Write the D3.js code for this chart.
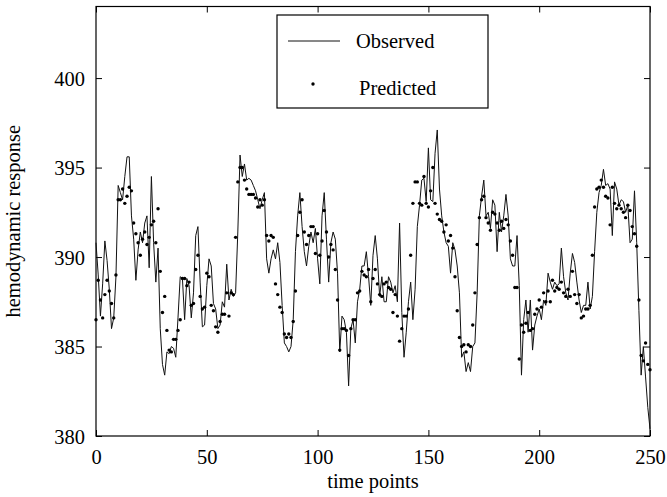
<!DOCTYPE html>
<html>
<head>
<meta charset="utf-8">
<script src="https://cdn.jsdelivr.net/npm/d3@7"></script>
<style>
  body { margin: 0; background: #fff; }
  svg text { font-family: "Liberation Serif", "Times New Roman", serif; fill: #000; }
</style>
</head>
<body>
<div class="chart"></div>
<script>
// observed signal, one value per time point (0..250)
var observed = [
  390.8,389.0,386.7,388.5,390.9,389.8,388.2,386.0,386.6,388.9,
  394.0,393.6,393.2,394.5,395.6,395.6,392.3,391.0,388.7,390.4,
  391.4,390.8,391.9,392.3,389.4,394.5,390.8,388.6,390.5,386.0,
  384.0,383.4,384.7,384.6,385.0,384.9,384.4,386.6,388.9,388.8,
  386.5,388.8,388.4,386.6,388.0,391.2,391.7,388.6,386.1,386.2,
  388.4,389.9,389.5,387.4,387.1,386.0,386.2,387.5,387.2,389.6,
  387.6,388.2,387.8,388.0,391.4,395.7,394.5,395.2,394.3,394.4,
  394.3,394.0,393.7,393.2,392.7,393.2,393.6,389.9,389.1,389.9,
  390.4,389.9,390.8,389.7,387.3,385.2,385.0,384.7,385.0,386.5,
  390.3,392.3,393.6,391.7,390.3,389.5,390.6,391.4,390.8,391.6,
  389.9,388.5,392.3,393.6,391.0,388.6,390.8,391.4,391.0,389.1,
  384.7,386.7,386.5,385.8,382.8,386.0,386.5,385.2,387.5,388.2,
  389.5,389.5,390.3,388.9,387.3,390.1,391.2,389.9,387.8,388.9,
  387.5,387.5,388.9,388.6,388.0,388.4,387.5,391.9,386.9,384.4,
  385.8,387.5,388.6,386.5,388.2,391.7,392.9,394.3,394.4,393.1,
  396.1,393.2,393.1,395.8,397.1,393.8,392.3,391.4,390.8,390.6,
  389.1,390.8,390.4,389.5,388.0,384.4,384.7,383.6,384.1,383.6,
  385.0,385.2,388.0,392.3,393.4,394.3,392.3,392.5,391.6,393.2,
  392.9,390.3,392.5,391.4,392.3,393.5,392.3,389.9,389.5,389.5,
  391.2,388.4,383.4,386.5,387.6,385.8,387.6,384.8,386.2,386.7,
  387.1,386.5,387.6,387.3,389.1,388.6,388.2,388.6,388.4,388.5,
  390.5,388.9,388.0,387.6,389.1,390.2,389.7,388.6,387.6,386.9,
  387.3,387.3,388.6,387.1,387.8,390.3,392.5,393.6,394.0,394.9,
  394.0,394.1,393.8,391.2,394.2,393.8,392.9,393.2,393.1,392.5,
  392.9,390.8,391.0,393.7,390.8,387.0,383.4,385.0,383.3,381.6,
  380.4
];

// predicted values (dots)
var predicted = [
  386.5,388.7,387.6,386.6,387.9,388.7,388.1,387.4,386.6,389.0,
  393.2,393.2,393.8,393.0,393.4,393.9,393.7,391.9,391.3,390.8,
  390.1,391.0,391.4,390.7,391.1,391.8,392.0,390.8,392.7,389.2,
  386.9,387.8,385.9,384.8,384.7,385.4,385.4,385.9,386.5,388.8,
  388.8,388.4,388.6,387.3,387.4,389.3,390.1,387.8,387.1,387.2,
  389.1,388.9,387.3,387.0,386.1,385.8,386.4,386.8,386.8,388.0,
  386.7,388.0,387.9,391.1,394.2,395.0,395.0,394.3,393.8,393.5,
  393.5,393.5,393.3,392.8,393.2,392.9,393.2,391.2,390.9,391.2,
  391.1,388.5,387.9,387.2,386.9,385.7,385.5,385.7,385.5,386.4,
  388.1,391.2,392.5,393.2,391.4,390.7,391.2,391.7,391.7,390.2,
  391.3,390.1,390.9,392.6,391.4,390.0,390.7,390.4,389.3,387.6,
  384.8,386.0,386.0,385.9,384.5,386.0,386.5,386.5,388.0,388.1,
  389.2,389.0,388.9,389.3,387.5,388.8,389.3,388.5,387.9,387.8,
  388.5,388.6,388.3,388.2,386.9,387.9,386.7,385.3,386.0,386.7,
  386.7,387.1,390.1,393.0,394.2,394.2,393.0,392.9,394.5,393.0,
  392.8,393.7,395.0,393.0,392.4,392.1,392.0,391.4,391.8,390.9,
  391.2,390.5,388.9,387.0,385.5,385.0,385.1,384.7,385.1,385.0,
  386.2,388.0,390.7,392.2,393.2,393.4,392.2,391.9,391.5,392.5,
  392.4,391.9,391.5,392.0,391.6,392.1,391.8,390.9,390.1,388.3,
  388.3,384.3,386.2,385.8,386.3,386.9,385.9,386.0,386.8,387.1,
  387.6,387.2,388.0,387.5,388.1,387.5,388.7,388.1,388.3,388.2,
  388.6,388.0,387.8,388.2,387.8,389.2,387.9,387.4,387.9,386.6,
  386.7,387.1,387.1,387.3,390.1,392.8,393.8,393.9,394.3,393.9,
  393.4,393.3,391.8,393.9,393.0,392.7,392.9,392.7,392.5,392.2,
  392.9,392.6,391.7,391.3,390.6,387.6,384.5,384.2,385.2,384.0,
  383.7
];

var xTicks = [0, 50, 100, 150, 200, 250];
var yTicks = [380, 385, 390, 395, 400];
var legendLabels = ["Observed", "Predicted"];

var svgWidth = 667;
var svgHeight = 497;
var margin = { top: 6.5, right: 17, bottom: 61, left: 96 };
var width = svgWidth - margin.left - margin.right;
var height = svgHeight - margin.top - margin.bottom;

var svg = d3.select(".chart")
    .append("svg")
    .attr("width", svgWidth)
    .attr("height", svgHeight);

var chartGroup = svg.append("g")
    .attr("transform", `translate(${margin.left}, ${margin.top})`);

var x = d3.scaleLinear().domain([0, 250]).range([0, width]);
var y = d3.scaleLinear().domain([380, 404]).range([height, 0]);

// frame
chartGroup.append("rect")
    .attr("width", width)
    .attr("height", height)
    .attr("fill", "none")
    .attr("stroke", "#000")
    .attr("stroke-width", 1.2);

// axes, ticks pointing inward on all four sides
function styleAxis(g) {
    g.select(".domain").remove();
    g.selectAll(".tick line").attr("stroke", "#000");
    g.selectAll(".tick text").attr("class", "lbl");
}

chartGroup.append("g")
    .attr("transform", `translate(0, ${height})`)
    .call(d3.axisBottom(x).tickValues(xTicks).tickSizeInner(-6).tickPadding(12))
    .call(styleAxis);

chartGroup.append("g")
    .call(d3.axisTop(x).tickValues(xTicks).tickSizeInner(-6).tickFormat(""))
    .call(styleAxis);

chartGroup.append("g")
    .call(d3.axisLeft(y).tickValues(yTicks).tickSizeInner(-6).tickPadding(11))
    .call(styleAxis);

chartGroup.append("g")
    .attr("transform", `translate(${width}, 0)`)
    .call(d3.axisRight(y).tickValues(yTicks).tickSizeInner(-6).tickFormat(""))
    .call(styleAxis);

// observed line
var line = d3.line()
    .x((d, i) => x(i))
    .y(d => y(d));

chartGroup.append("path")
    .datum(observed)
    .attr("fill", "none")
    .attr("stroke", "#111")
    .attr("stroke-width", 1)
    .attr("d", line);

// predicted dots
chartGroup.selectAll(".pred")
    .data(predicted)
    .enter()
    .append("circle")
    .attr("class", "pred")
    .attr("cx", (d, i) => x(i))
    .attr("cy", d => y(d))
    .attr("r", 1.7)
    .attr("fill", "#000");

// axis labels
chartGroup.append("text")
    .attr("class", "lbl")
    .attr("transform", `translate(${-76}, ${height / 2}) rotate(-90)`)
    .attr("text-anchor", "middle")
    .text("hemodynamic response");

chartGroup.append("text")
    .attr("class", "lbl")
    .attr("x", width / 2)
    .attr("y", height + 52)
    .attr("text-anchor", "middle")
    .text("time points");

// legend
var legend = svg.append("g").attr("transform", "translate(277, 15)");

legend.append("rect")
    .attr("width", 211)
    .attr("height", 93)
    .attr("fill", "#fff")
    .attr("stroke", "#000")
    .attr("stroke-width", 1.2);

legend.append("line")
    .attr("x1", 11).attr("x2", 63)
    .attr("y1", 26).attr("y2", 26)
    .attr("stroke", "#111")
    .attr("stroke-width", 1);

legend.append("circle")
    .attr("cx", 36).attr("cy", 69)
    .attr("r", 1.7)
    .attr("fill", "#000");

legend.selectAll(".lab")
    .data(legendLabels)
    .enter()
    .append("text")
    .attr("class", "lbl")
    .attr("x", (d, i) => i === 0 ? 79 : 82)
    .attr("y", (d, i) => i === 0 ? 33 : 80)
    .text(d => d);

// the original type is a little taller than it is wide:
// use a larger size and squeeze the width back
svg.selectAll("text.lbl")
    .style("font-size", "22px")
    .each(function() {
        var w = this.getComputedTextLength();
        d3.select(this)
            .attr("textLength", w * 0.93)
            .attr("lengthAdjust", "spacingAndGlyphs");
    });
</script>
</body>
</html>
